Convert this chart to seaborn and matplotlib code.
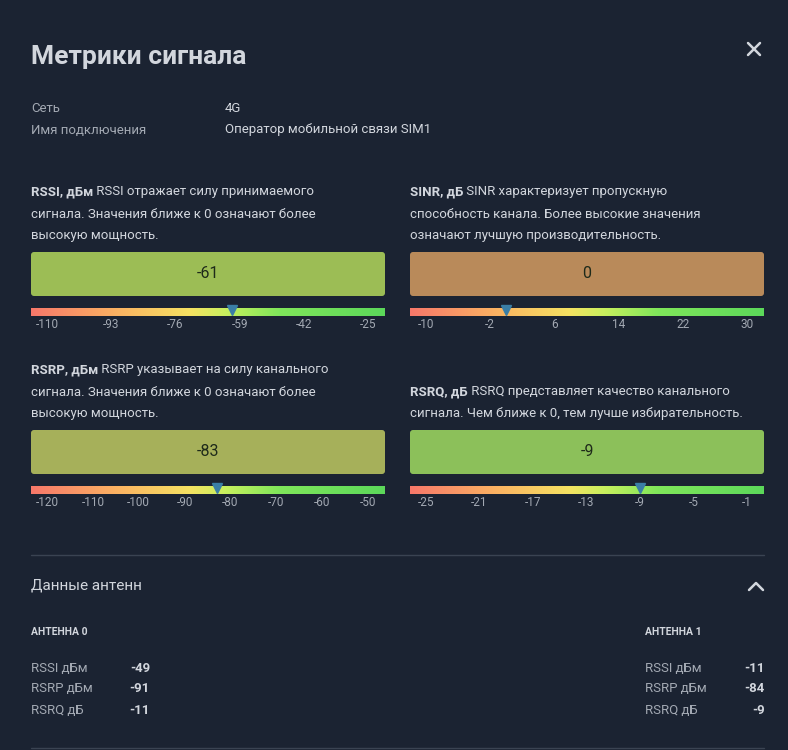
import numpy as np
import seaborn as sns
import matplotlib.pyplot as plt
from matplotlib.patches import FancyBboxPatch
from matplotlib.colors import LinearSegmentedColormap

sns.set_theme(style="white")
plt.rcParams["font.family"] = ["Roboto", "DejaVu Sans"]

BG = "#1b2332"
TXT = "#d2d6dd"
SUB = "#a3a9b3"

# data
info_labels = ["Сеть", "Имя подключения"]
info_values = ["4G", "Оператор мобильной связи SIM1"]

metric_names = ["RSSI, дБм", "SINR, дБ", "RSRP, дБм", "RSRQ, дБ"]
metric_desc = [
    ["RSSI отражает силу принимаемого", "сигнала. Значения ближе к 0 означают более", "высокую мощность."],
    ["SINR характеризует пропускную", "способность канала. Более высокие значения", "означают лучшую производительность."],
    ["RSRP указывает на силу канального", "сигнала. Значения ближе к 0 означают более", "высокую мощность."],
    ["RSRQ представляет качество канального", "сигнала. Чем ближе к 0, тем лучше избирательность."],
]
metric_values = [-61, 0, -83, -9]
metric_ticks = [
    [-110, -93, -76, -59, -42, -25],
    [-10, -2, 6, 14, 22, 30],
    [-120, -110, -100, -90, -80, -70, -60, -50],
    [-25, -21, -17, -13, -9, -5, -1],
]
box_colors = ["#9cbd55", "#b98a5a", "#a6b05a", "#8cc05a"]

antenna_names = ["АНТЕННА 0", "АНТЕННА 1"]
antenna_labels = ["RSSI дБм", "RSRP дБм", "RSRQ дБ"]
antenna0 = [-49, -91, -11]
antenna1 = [-11, -84, -9]

W, H = 788, 750
fig = plt.figure(figsize=(W / 100, H / 100), dpi=100, facecolor=BG)
ax = fig.add_axes([0, 0, 1, 1])
ax.set_xlim(0, W)
ax.set_ylim(H, 0)
ax.axis("off")
ax.set_facecolor(BG)

ax.text(31, 57, "Метрики сигнала", color=TXT, fontsize=19, fontweight="bold", va="center")
ax.plot([748, 760], [43, 55], color=TXT, lw=1.8)
ax.plot([748, 760], [55, 43], color=TXT, lw=1.8)

for i, (lab, val) in enumerate(zip(info_labels, info_values)):
    y = 109 + i * 21
    ax.text(31, y, lab, color=SUB, fontsize=9.5, va="center")
    ax.text(225, y, val, color=TXT, fontsize=9.5, va="center")

cmap = LinearSegmentedColormap.from_list(
    "sig", [(0, "#f7786a"), (0.25, "#fbb462"), (0.45, "#f5e262"),
            (0.55, "#c8f05e"), (0.7, "#80e65a"), (1, "#5cd85a")])

cols = [31, 410]
box_tops = [252, 430]
bw = 354
for k in range(4):
    x0 = cols[k % 2]
    by = box_tops[k // 2]
    lines = metric_desc[k]
    y0 = by - 16 - 22 * (len(lines) - 1)
    t = ax.text(x0, y0, metric_names[k], color=TXT, fontsize=9.5, fontweight="bold", va="center")
    ax.annotate(" " + lines[0], xy=(1, 0.5), xycoords=t, va="center",
                color=TXT, fontsize=9.5)
    for j, line in enumerate(lines[1:]):
        ax.text(x0, y0 + 22 * (j + 1), line, color=TXT, fontsize=9.5, va="center")

    ax.add_patch(FancyBboxPatch((x0 + 3, by + 3), bw - 6, 38,
                                boxstyle="round,pad=3", fc=box_colors[k], ec="none"))
    ax.text(x0 + bw / 2, by + 22, str(metric_values[k]), color="#1e2a1a",
            fontsize=11.5, ha="center", va="center")

    # gauge axes in data units
    ticks = metric_ticks[k]
    lo, hi = ticks[0], ticks[-1]
    gy = by + 56
    px_lo, px_hi = x0 + 16, x0 + bw - 17
    scale = (hi - lo) / (px_hi - px_lo)
    xmin = lo - (px_lo - x0) * scale
    xmax = hi + (x0 + bw - px_hi) * scale
    gax = fig.add_axes([x0 / W, 1 - (gy + 8) / H, bw / W, 8 / H])
    gax.imshow(np.linspace(0, 1, 256)[None, :], cmap=cmap, aspect="auto",
               extent=[xmin, xmax, 0, 1])
    gax.set_xlim(xmin, xmax)
    gax.set_ylim(0, 1)
    gax.axis("off")
    gax.plot([metric_values[k]], [0.75], marker="v", color="#3a7ea6",
             markersize=7, clip_on=False)
    for tv in ticks:
        ax.text(px_lo + (tv - lo) / scale, gy + 17, str(tv), color=SUB,
                fontsize=8.5, ha="center", va="center")

ax.plot([31, 764], [555, 555], color="#3a4352", lw=1)
ax.plot([31, 764], [748, 748], color="#3a4352", lw=1)
ax.text(31, 586, "Данные антенн", color=TXT, fontsize=11, va="center")
ax.plot([749, 756, 763], [590, 583, 590], color=TXT, lw=1.8)

for a, (name, vals) in enumerate(zip(antenna_names, [antenna0, antenna1])):
    xl = 31 if a == 0 else 645
    xv = 150 if a == 0 else 765
    ax.text(xl, 632, name, color=TXT, fontsize=7.5, fontweight="bold", va="center")
    for i, (lab, v) in enumerate(zip(antenna_labels, vals)):
        y = 668 + i * 21
        ax.text(xl, y, lab, color=SUB, fontsize=9.5, va="center")
        ax.text(xv, y, str(v), color=TXT, fontsize=9.5, fontweight="bold",
                va="center", ha="right")

fig.savefig("out.png", dpi=100, facecolor=BG)
